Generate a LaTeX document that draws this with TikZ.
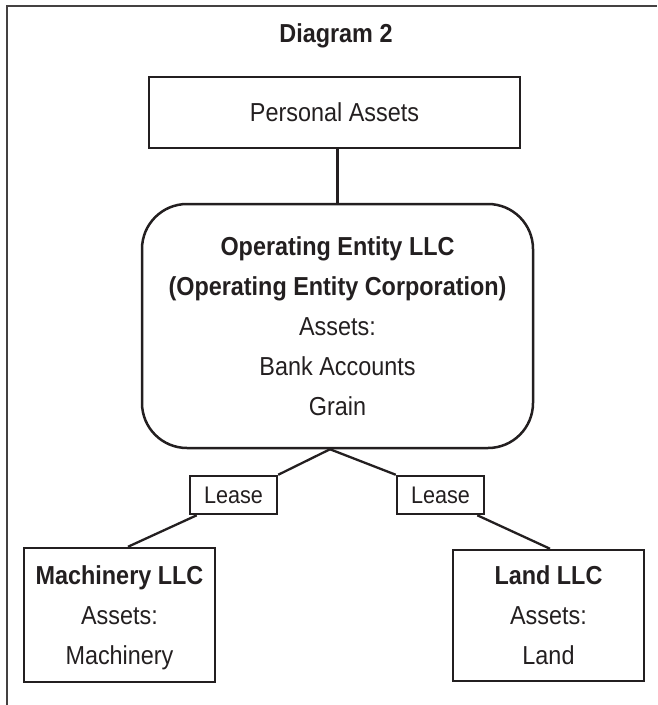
\documentclass[tikz,border=0pt]{standalone}
\usepackage{fontspec}
\usetikzlibrary{calc}
\setmainfont{Liberation Sans}[FakeStretch=0.9]
\definecolor{ink}{RGB}{35,31,32}
\tikzset{
  box/.style={draw=ink, line width=2.5pt, inner sep=0pt, align=center, text=ink,
              font=\fontsize{26}{40}\selectfont},
  roundbox/.style={box, rounded corners=45pt},
  leasebox/.style={box, font=\fontsize{24}{28}\selectfont},
  conn/.style={draw=ink, line width=2.3pt},
  frame/.style={draw=ink!85, line width=1.4pt}
}
\begin{document}
\begin{tikzpicture}[x=1pt,y=-1pt]
\useasboundingbox (0,0) rectangle (657,705);
\draw[frame] (7,705) -- (7,6) -- (657,6);
\node[text=ink, font=\fontsize{26}{30}\selectfont\bfseries] (title) at (336,36) {Diagram 2};
\node[box, minimum width=371pt, minimum height=71pt] (pa) at (334.5,112.5) {Personal Assets};
\node[roundbox, minimum width=391pt, minimum height=244pt] (oe) at (337.5,326)
  {\textbf{Operating Entity LLC}\\\textbf{(Operating Entity Corporation)}\\Assets:\\Bank Accounts\\Grain};
\node[leasebox, minimum width=87pt, minimum height=38pt] (ll) at (233.5,495) {Lease};
\node[leasebox, minimum width=87pt, minimum height=38pt] (lr) at (440.5,495) {Lease};
\node[box, minimum width=191pt, minimum height=134pt, text depth=0pt] (mach) at (119.5,615)
  {\textbf{Machinery LLC}\\Assets:\\Machinery};
\node[box, minimum width=191pt, minimum height=131pt] (land) at (548.5,615.5) {\textbf{Land LLC}\\Assets:\\Land};
\coordinate (apex) at ($(oe.south)+(-7.5,0)$);
\draw[conn] (oe.north) -- (oe.north |- pa.south);
\draw[conn] (apex) -- (ll.north east);
\draw[conn] (apex) -- (lr.north west);
\draw[conn] ($(ll.south west)+(8,0)$) -- ($(mach.north)+(8.5,0)$);
\draw[conn] ($(lr.south east)+(-8,0)$) -- ($(land.north)+(1.5,0)$);
\end{tikzpicture}
\end{document}
